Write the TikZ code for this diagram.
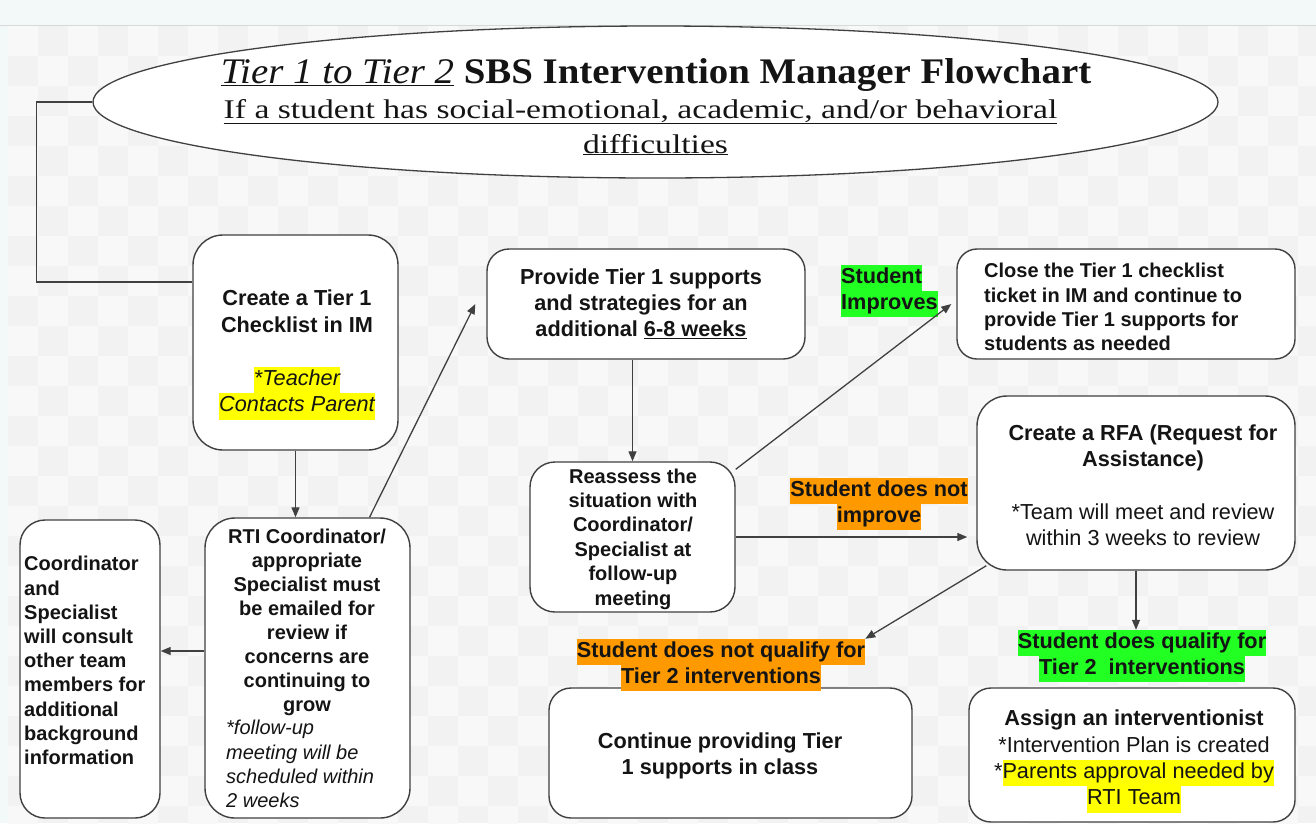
\documentclass[tikz,border=0pt]{standalone}
\usepackage{fontspec}
\setmainfont{Liberation Sans}
\newfontfamily\titlefam[FakeStretch=1.08]{Liberation Serif}
\newfontfamily\subfam[FakeStretch=1.245]{Liberation Serif}
\usetikzlibrary{arrows.meta,calc,shapes.geometric}
\definecolor{hlyellow}{HTML}{FFFF00}
\definecolor{hlgreen}{HTML}{22FF22}
\definecolor{hlorange}{HTML}{FF9900}
\definecolor{bgA}{HTML}{F2F2F2}
\definecolor{bgB}{HTML}{F8F8F8}
\definecolor{topband}{HTML}{F3F8F9}
\definecolor{edge}{HTML}{404040}
\definecolor{ink}{HTML}{141414}
\newcommand\hlbox[2]{{\setlength{\fboxsep}{0pt}\colorbox{#1}{\strut #2}}}
\begin{document}
\begin{tikzpicture}[x=1pt,y=-1pt,
  box/.style={draw=edge, line width=1.4pt, fill=white, rounded corners=#1, inner sep=0pt},
  box/.default=25pt,
  txt/.style={font=\bfseries\fontsize{21.7}{26}\selectfont, inner sep=0pt, text=ink},
  txts/.style={font=\bfseries\fontsize{20}{24.2}\selectfont, inner sep=0pt, text=ink},
  conn/.style={draw=edge, line width=1.3pt},
  arr/.style={conn, -{Triangle[length=10pt,width=8pt]}}]
\useasboundingbox (0,0) rectangle (1316,823);
\fill[bgA] (0,0) rectangle (1316,823);
\foreach \i in {0,...,43}{\foreach \j in {0,...,27}{
  \pgfmathparse{int(mod(\i+\j,2))}
  \ifnum\pgfmathresult=0 \fill[bgB] (8+\i*30,26+\j*30) rectangle ++(30,30);\fi}}
\fill[topband] (0,0) rectangle (1316,25);
\fill[topband] (0,25) rectangle (8,823);
\draw[color=black!15, line width=1pt] (0,25.5) -- (1316,25.5);

% title ellipse
\node[ellipse, draw=edge, line width=1.3pt, fill=white, minimum width=1125pt, minimum height=152pt, inner sep=0pt] (title) at (655.5,102) {};
\node[font=\titlefam\fontsize{36}{40}\selectfont, anchor=base, inner sep=0pt, text=ink] (titletxt) at (656,83)
  {\underline{\textit{Tier 1 to Tier 2}} \textbf{SBS Intervention Manager Flowchart}};
\node[font=\subfam\fontsize{27}{35}\selectfont, anchor=base, inner sep=0pt, text=ink] (subA) at (640.5,118)
  {\underline{If a student has social-emotional, academic, and/or behavioral}};
\node[font=\subfam\fontsize{27}{35}\selectfont, anchor=base, inner sep=0pt, text=ink] (subB) at (655.5,153)
  {\underline{difficulties}};

% boxes
\node[box=30pt, minimum width=205pt, minimum height=215pt] (create) at (295.5,342.5) {};
\node[txt, align=center, font=\bfseries\fontsize{21.7}{26.5}\selectfont] (createtxt) at (297,355)
  {Create a Tier 1\\Checklist in IM\\[26.5pt]{\mdseries\itshape\hlbox{hlyellow}{*Teacher}}\\{\mdseries\itshape\hlbox{hlyellow}{Contacts Parent}}};

\node[box=30pt, minimum width=205pt, minimum height=300pt] (rti) at (307.5,668) {};
\node[txts, align=center, font=\bfseries\fontsize{20}{24.1}\selectfont] (rtitxtA) at (307,622.5)
  {RTI Coordinator/\\appropriate\\Specialist must\\be emailed for\\review if\\concerns are\\continuing to\\grow};
\node[txts, align=left, anchor=west, font=\mdseries\itshape\fontsize{20}{24.2}\selectfont] (rtitxtB) at (226,764)
  {*follow-up\\meeting will be\\scheduled within\\2 weeks};

\node[box=25pt, minimum width=140pt, minimum height=298pt] (coord) at (90,669) {};
\node[txts, align=left, anchor=west] (coordtxt) at (24,660.5)
  {Coordinator\\and\\Specialist\\will consult\\other team\\members for\\additional\\background\\information};

\node[box=22pt, minimum width=318pt, minimum height=110pt] (provide) at (646,304) {};
\node[txt, align=center] (providetxt) at (641,304)
  {Provide Tier 1 supports\\and strategies for an\\additional \underline{6-8 weeks}};

\node[box=25pt, minimum width=205pt, minimum height=150pt] (reassess) at (632.5,537) {};
\node[txts, align=center, font=\bfseries\fontsize{20}{24.4}\selectfont] (reassesstxt) at (633,539)
  {Reassess the\\situation with\\Coordinator/\\Specialist at\\follow-up\\meeting};

\node[box=20pt, minimum width=338pt, minimum height=110pt] (close) at (1126,304) {};
\node[txts, align=left, anchor=west] (closetxt) at (984,307)
  {Close the Tier 1 checklist\\ticket in IM and continue to\\provide Tier 1 supports for\\students as needed};

\node[box=30pt, minimum width=318pt, minimum height=174pt] (rfa) at (1136,483) {};
\node[txt, align=center, font=\bfseries\fontsize{21.7}{26.25}\selectfont] (rfatxt) at (1143,485)
  {Create a RFA (Request for\\Assistance)\\[26.25pt]{\mdseries *Team will meet and review}\\{\mdseries within 3 weeks to review}};

\node[box=22pt, minimum width=363pt, minimum height=130pt] (cont) at (730.5,753) {};
\node[txt, align=center] (conttxt) at (720,756)
  {Continue providing Tier\\1 supports in class};

\node[box=22pt, minimum width=326pt, minimum height=134pt] (assign) at (1132,755) {};
\node[txt, align=center, font=\bfseries\fontsize{21.7}{26.3}\selectfont] (assigntxt) at (1134,761.5)
  {Assign an interventionist\\{\mdseries *Intervention Plan is created}\\{\mdseries *\hlbox{hlyellow}{Parents approval needed by}}\\{\mdseries\hlbox{hlyellow}{RTI Team}}};

% labels
\node[txt, align=left, anchor=west] (lblimp) at (841,291)
  {\hlbox{hlgreen}{Student}\\\hlbox{hlgreen}{Improves}};
\node[txt, align=center] (lblnot) at (879,504)
  {\hlbox{hlorange}{Student does not}\\\hlbox{hlorange}{improve}};
\node[txt, align=center] (lblnq) at (721,665)
  {\hlbox{hlorange}{Student does not qualify for}\\\hlbox{hlorange}{Tier 2 interventions}};
\node[txt, align=center] (lblq) at (1142,656)
  {\hlbox{hlgreen}{Student does qualify for}\\\hlbox{hlgreen}{Tier 2\ \ interventions}};

% connectors
\draw[conn] (title.west) -- ($(title.west)+(-56,0)$) |- ([yshift=60.5pt]create.west);
\draw[arr] (create.south) -- (create.south |- rti.north);
\draw[arr] ([xshift=62pt]rti.north) -- ([xshift=-11pt]provide.west);
\coordinate (rtiW) at ([yshift=17pt]rti.west);
\draw[arr] (rtiW) -- (rtiW -| coord.east);
\draw[arr] (provide.south -| reassess.north) -- (reassess.north);
\draw[arr] ([yshift=-8pt]reassess.north east) -- ([xshift=-5pt]close.west);
\draw[arr, shorten >=9pt] (reassess.east) -- (reassess.east -| rfa.west);
\draw[arr] ([xshift=10pt,yshift=5pt]rfa.south west) -- (lblnq.north east);
\draw[arr] (rfa.south) -- (rfa.south |- lblq.north);
\end{tikzpicture}
\end{document}
